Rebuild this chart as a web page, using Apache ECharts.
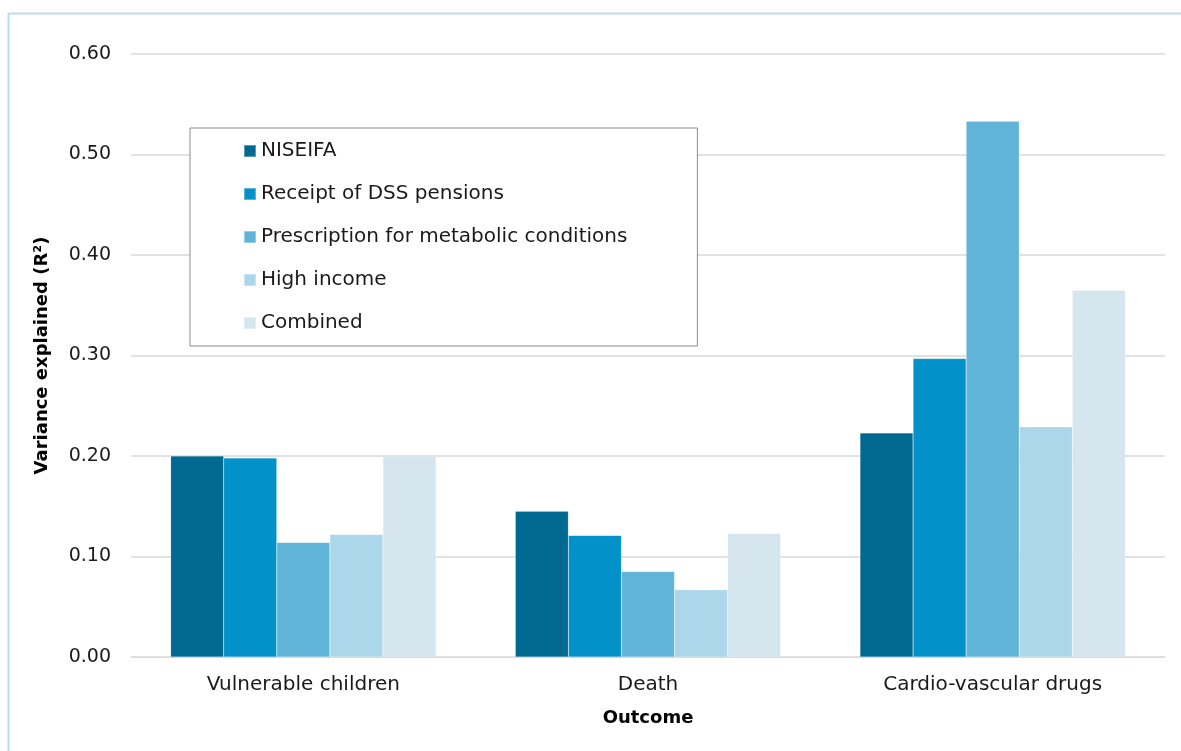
<!DOCTYPE html>
<html><head><meta charset="utf-8">
<script src="https://cdn.jsdelivr.net/npm/echarts@6/dist/echarts.min.js"></script>
<style>html,body{margin:0;padding:0;background:#fff}#c{width:1181px;height:751px}</style>
</head><body><div id="c"></div>
<script>
const categories = ['Vulnerable children', 'Death', 'Cardio-vascular drugs'];
const seriesNames = ['NISEIFA', 'Receipt of DSS pensions', 'Prescription for metabolic conditions', 'High income', 'Combined'];
const niseifa = [0.200, 0.145, 0.223];
const dss = [0.198, 0.121, 0.297];
const metabolic = [0.114, 0.085, 0.533];
const highIncome = [0.122, 0.067, 0.229];
const combined = [0.200, 0.123, 0.365];
const colors = ['#006991', '#0291c8', '#60b4d8', '#acd6ea', '#d5e6ef'];
const allValues = [niseifa, dss, metabolic, highIncome, combined];
const font = '"DejaVu Sans", sans-serif';

const chart = echarts.init(document.getElementById('c'));
chart.setOption({
  animation: false,
  textStyle: { fontFamily: font },
  graphic: [{
    type: 'rect', left: 6, top: 11, z: -1,
    shape: { width: 1200, height: 800 },
    style: { fill: 'none', stroke: '#b8dcef', lineWidth: 2 }
  }],
  grid: { left: 131, right: 16, top: 54, bottom: 94 },
  legend: {
    orient: 'vertical', left: 190, top: 128,
    data: seriesNames,
    itemWidth: 12, itemHeight: 12, itemGap: 23, icon: 'rect',
    borderColor: '#8c8c8c', borderWidth: 1,
    padding: [13, 70, 13, 53],
    textStyle: { fontSize: 20, color: '#1a1a1a', fontFamily: font, padding: [0, 0, 0, 0] },
    backgroundColor: '#fff'
  },
  xAxis: {
    type: 'category', data: categories,
    name: 'Outcome', nameLocation: 'middle', nameGap: 52,
    nameTextStyle: { fontWeight: 'bold', fontSize: 18, color: '#000', fontFamily: font },
    axisLine: { lineStyle: { color: '#d9d9d9' } },
    axisTick: { show: false },
    axisLabel: { fontSize: 20, color: '#1a1a1a', margin: 18 }
  },
  yAxis: {
    type: 'value', min: 0, max: 0.6, interval: 0.1,
    name: 'Variance explained (R²)', nameLocation: 'middle', nameGap: 80,
    nameTextStyle: { fontWeight: 'bold', fontSize: 18, color: '#000', fontFamily: font },
    axisLabel: { fontSize: 19, color: '#1a1a1a', margin: 20, formatter: v => v.toFixed(2) },
    splitLine: { lineStyle: { color: '#d9d9d9', width: 1.5 } }
  },
  series: seriesNames.map((n, i) => ({
    name: n, type: 'bar', data: allValues[i],
    barGap: '0%', barCategoryGap: '23%',
    itemStyle: { color: colors[i], borderColor: 'rgba(255,255,255,0.35)', borderWidth: 0.5 }
  }))
});
</script></body></html>
